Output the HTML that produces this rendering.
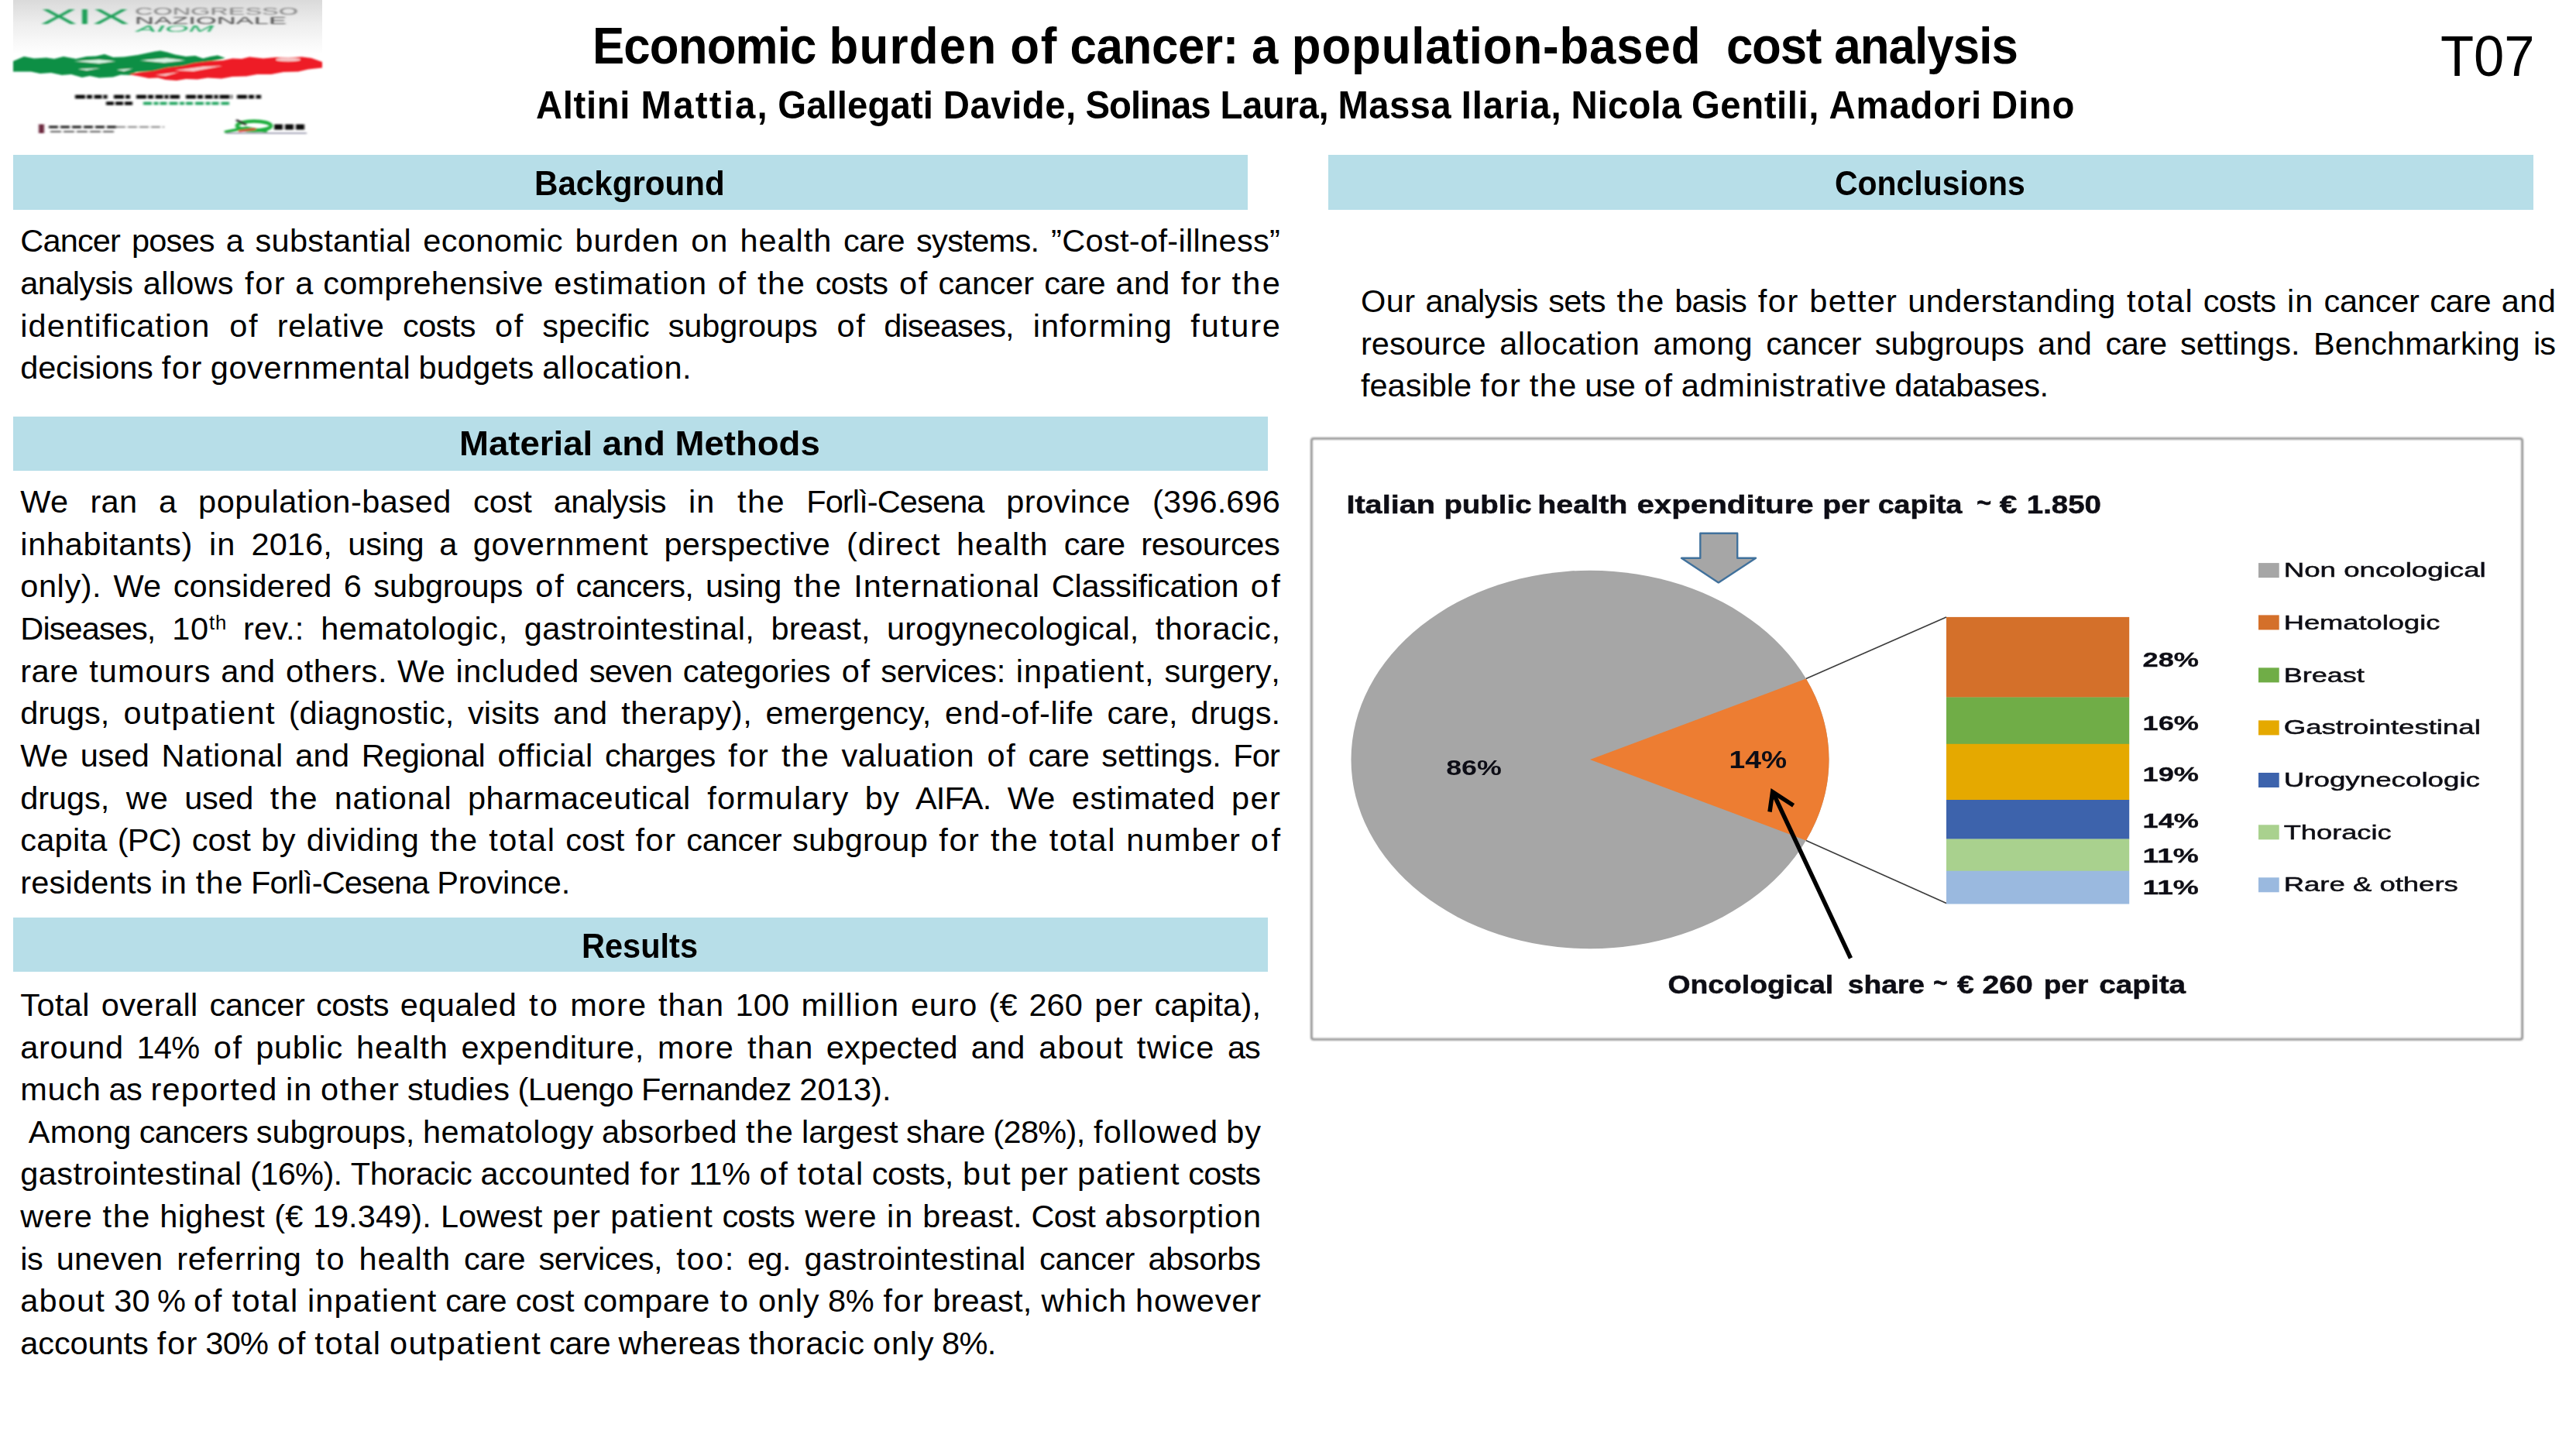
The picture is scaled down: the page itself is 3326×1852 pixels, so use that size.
<!DOCTYPE html>
<html lang="en"><head><meta charset="utf-8"><title>Economic burden of cancer: a population-based cost analysis</title>
<style>
html,body{margin:0;padding:0;background:#fff}
body{width:3326px;height:1852px;position:relative;overflow:hidden;font-family:"Liberation Sans", sans-serif;color:#000}
.bar{position:absolute;background:#b7dee8}
.t{position:absolute;white-space:nowrap;transform-origin:0 0;margin:0;font-weight:normal}
.b{font-weight:bold}
.ln{position:absolute;white-space:nowrap;font-size:41.5px;line-height:54px;height:54px;text-align:justify;text-align-last:justify;font-variant-ligatures:none;word-spacing:-1.17px}
.ln.last{text-align:left;text-align-last:left}
.ln sup{font-size:0.62em;line-height:0;vertical-align:baseline;position:relative;top:-0.52em}
svg{position:absolute;left:0;top:0}
svg text{font-family:"Liberation Sans", sans-serif}
</style></head><body>
<div class="bar" style="left:17px;top:200px;width:1594px;height:71px"></div>
<div class="bar" style="left:17px;top:537.5px;width:1620px;height:70px"></div>
<div class="bar" style="left:17px;top:1185.3px;width:1620px;height:70.2px"></div>
<div class="bar" style="left:1715px;top:200px;width:1556px;height:71px"></div>
<h1 id="title" class="t b" style="left:765.00px;top:19.48px;font-size:67px;line-height:80px;transform:scaleX(0.923);word-spacing:-0.85px;"><span style="letter-spacing:-0.96px">Economic</span> <span style="letter-spacing:1.35px;margin:0 -0.68px 0 0.68px">burden</span> <span style="letter-spacing:1.92px;margin:0 -0.96px 0 0.96px">of</span> <span style="letter-spacing:-0.43px">cancer:</span> <span style="letter-spacing:1.52px;margin:0 -0.76px 0 0.76px">a</span> <span style="letter-spacing:0.89px;margin:0 -0.45px 0 0.45px">population-based&nbsp;</span> <span style="letter-spacing:-1.34px;margin:0 0.67px 0 -0.67px">cost</span> <span style="letter-spacing:-0.97px">analysi</span>s</h1>
<h2 id="authors" class="t b" style="left:692.00px;top:105.94px;font-size:49.8px;line-height:60px;transform:scaleX(0.95);word-spacing:-0.75px;"><span style="letter-spacing:0.67px">Altini</span> <span style="letter-spacing:2.32px;margin:0 -1.16px 0 1.16px">Mattia,</span> <span style="letter-spacing:0.13px">Gallegati</span> <span style="letter-spacing:0.55px;margin:0 -0.28px 0 0.28px">Davide,</span> <span style="letter-spacing:-1.06px;margin:0 0.53px 0 -0.53px">Solinas</span> <span style="letter-spacing:-0.42px">Laura,</span> <span style="letter-spacing:0.34px">Massa</span> <span style="letter-spacing:0.92px;margin:0 -0.46px 0 0.46px">Ilaria,</span> <span style="letter-spacing:0.13px">Nicola</span> <span style="letter-spacing:0.63px;margin:0 -0.32px 0 0.32px">Gentili,</span> <span style="letter-spacing:0.83px;margin:0 -0.41px 0 0.41px">Amadori</span> <span style="letter-spacing:0.76px">Din</span>o</h2>
<div id="code" class="t" style="left:3151.00px;top:28.26px;font-size:74.3px;line-height:89px;transform:scaleX(0.95);">T07</div>
<h3 id="h-bg" class="t b" style="left:690.30px;top:209.58px;font-size:44.2px;line-height:53px;transform:scaleX(0.953);">Background</h3>
<h3 id="h-mm" class="t b" style="left:593.00px;top:546.48px;font-size:44.2px;line-height:53px;transform:scaleX(1.031);">Material and Methods</h3>
<h3 id="h-rs" class="t b" style="left:751.00px;top:1194.58px;font-size:44.2px;line-height:53px;transform:scaleX(0.94);">Results</h3>
<h3 id="h-cc" class="t b" style="left:2369.00px;top:209.78px;font-size:44.2px;line-height:53px;transform:scaleX(0.9265);">Conclusions</h3>
<section id="bg">
<div class="ln" style="left:26.30px;top:284.42px;width:1626.70px;"><span style="letter-spacing:-0.83px">Cancer</span> <span style="letter-spacing:-0.78px;margin:0 0.39px 0 -0.39px">poses</span> <span style="letter-spacing:-1.16px;margin:0 0.58px 0 -0.58px">a</span> <span style="letter-spacing:0.28px">substantial</span> <span style="letter-spacing:0.37px">economic</span> <span style="letter-spacing:0.86px;margin:0 -0.43px 0 0.43px">burden</span> <span style="letter-spacing:1.02px;margin:0 -0.51px 0 0.51px">on</span> <span style="letter-spacing:0.94px;margin:0 -0.47px 0 0.47px">health</span> <span style="letter-spacing:-0.41px">care</span> <span style="letter-spacing:-0.65px;margin:0 0.33px 0 -0.33px">systems.</span> <span style="letter-spacing:0.33px">”Cost-of-illness</span>”</div>
<div class="ln" style="left:26.30px;top:339.02px;width:1626.70px;"><span style="letter-spacing:-0.61px">analysis</span> <span style="letter-spacing:0.31px">allows</span> <span style="letter-spacing:1.57px;margin:0 -0.79px 0 0.79px">for</span> <span style="letter-spacing:-1.16px;margin:0 0.58px 0 -0.58px">a</span> <span style="letter-spacing:0.22px">comprehensive</span> <span style="letter-spacing:0.84px;margin:0 -0.42px 0 0.42px">estimation</span> <span style="letter-spacing:1.76px;margin:0 -0.88px 0 0.88px">of</span> <span style="letter-spacing:1.5px;margin:0 -0.75px 0 0.75px">the</span> <span style="letter-spacing:-0.62px;margin:0 0.31px 0 -0.31px">costs</span> <span style="letter-spacing:1.76px;margin:0 -0.88px 0 0.88px">of</span> <span style="letter-spacing:-0.24px">cancer</span> <span style="letter-spacing:-0.41px">care</span> <span style="letter-spacing:0.27px">and</span> <span style="letter-spacing:1.57px;margin:0 -0.79px 0 0.79px">for</span> <span style="letter-spacing:2.25px">th</span>e</div>
<div class="ln" style="left:26.30px;top:393.62px;width:1626.70px;"><span style="letter-spacing:1.02px">identification</span> <span style="letter-spacing:1.76px;margin:0 -0.88px 0 0.88px">of</span> <span style="letter-spacing:0.62px;margin:0 -0.31px 0 0.31px">relative</span> <span style="letter-spacing:-0.62px;margin:0 0.31px 0 -0.31px">costs</span> <span style="letter-spacing:1.76px;margin:0 -0.88px 0 0.88px">of</span> specific <span style="letter-spacing:-0.11px">subgroups</span> <span style="letter-spacing:1.76px;margin:0 -0.88px 0 0.88px">of</span> <span style="letter-spacing:-0.89px;margin:0 0.44px 0 -0.44px">diseases,</span> <span style="letter-spacing:1.05px;margin:0 -0.53px 0 0.53px">informing</span> <span style="letter-spacing:1.9px">futur</span>e</div>
<div class="ln last" style="left:26.30px;top:448.22px;"><span style="letter-spacing:-0.19px">decisions</span> <span style="letter-spacing:1.57px;margin:0 -0.79px 0 0.79px">for</span> <span style="letter-spacing:0.59px;margin:0 -0.29px 0 0.29px">governmental</span> <span style="letter-spacing:0.21px">budgets</span> <span style="letter-spacing:0.55px;margin:0 -0.28px 0 0.28px">allocation.</span></div>
</section>
<section id="mm">
<div class="ln" style="left:26.30px;top:621.22px;width:1626.70px;"><span style="letter-spacing:0.17px">We</span> <span style="letter-spacing:0.35px">ran</span> <span style="letter-spacing:-1.16px;margin:0 0.58px 0 -0.58px">a</span> <span style="letter-spacing:0.53px;margin:0 -0.27px 0 0.27px">population-based</span> <span style="letter-spacing:-0.06px">cost</span> <span style="letter-spacing:-0.61px;margin:0 0.3px 0 -0.3px">analysis</span> <span style="letter-spacing:1.13px;margin:0 -0.56px 0 0.56px">in</span> <span style="letter-spacing:1.5px;margin:0 -0.75px 0 0.75px">the</span> <span style="letter-spacing:-0.87px;margin:0 0.43px 0 -0.43px">Forlì-Cesena</span> <span style="letter-spacing:0.47px">province</span> <span style="letter-spacing:0.13px">(396.69</span>6</div>
<div class="ln" style="left:26.30px;top:675.85px;width:1626.70px;"><span style="letter-spacing:0.67px">inhabitants)</span> <span style="letter-spacing:1.13px;margin:0 -0.56px 0 0.56px">in</span> <span style="letter-spacing:0.08px">2016,</span> <span style="letter-spacing:-0.22px">using</span> <span style="letter-spacing:-1.16px;margin:0 0.58px 0 -0.58px">a</span> <span style="letter-spacing:0.74px;margin:0 -0.37px 0 0.37px">government</span> <span style="letter-spacing:0.22px">perspective</span> <span style="letter-spacing:0.86px;margin:0 -0.43px 0 0.43px">(direct</span> <span style="letter-spacing:0.94px;margin:0 -0.47px 0 0.47px">health</span> <span style="letter-spacing:-0.41px">care</span> <span style="letter-spacing:-0.33px">resource</span>s</div>
<div class="ln" style="left:26.30px;top:730.48px;width:1626.70px;"><span style="letter-spacing:0.57px">only).</span> <span style="letter-spacing:0.17px">We</span> <span style="letter-spacing:0.17px">considered</span> <span style="letter-spacing:0.12px">6</span> <span style="letter-spacing:-0.11px">subgroups</span> <span style="letter-spacing:1.76px;margin:0 -0.88px 0 0.88px">of</span> <span style="letter-spacing:-0.65px;margin:0 0.33px 0 -0.33px">cancers,</span> <span style="letter-spacing:-0.22px">using</span> <span style="letter-spacing:1.5px;margin:0 -0.75px 0 0.75px">the</span> <span style="letter-spacing:0.93px;margin:0 -0.47px 0 0.47px">International</span> <span style="letter-spacing:-0.2px">Classification</span> <span style="letter-spacing:3.52px">o</span>f</div>
<div class="ln" style="left:26.30px;top:785.11px;width:1626.70px;"><span style="letter-spacing:-0.89px">Diseases,</span> <span style="letter-spacing:0.81px;margin:0 -0.41px 0 0.41px">10<sup>th</sup></span> <span style="letter-spacing:0.21px">rev.:</span> <span style="letter-spacing:0.52px;margin:0 -0.26px 0 0.26px">hematologic,</span> <span style="letter-spacing:0.4px">gastrointestinal,</span> <span style="letter-spacing:0.21px">breast,</span> <span style="letter-spacing:0.14px">urogynecological,</span> <span style="letter-spacing:0.54px">thoracic</span>,</div>
<div class="ln" style="left:26.30px;top:839.74px;width:1626.70px;"><span style="letter-spacing:0.33px">rare</span> <span style="letter-spacing:1.05px;margin:0 -0.53px 0 0.53px">tumours</span> <span style="letter-spacing:0.27px">and</span> <span style="letter-spacing:0.59px;margin:0 -0.29px 0 0.29px">others.</span> <span style="letter-spacing:0.17px">We</span> <span style="letter-spacing:0.6px;margin:0 -0.3px 0 0.3px">included</span> <span style="letter-spacing:-0.64px;margin:0 0.32px 0 -0.32px">seven</span> <span style="letter-spacing:-0.08px">categories</span> <span style="letter-spacing:1.76px;margin:0 -0.88px 0 0.88px">of</span> <span style="letter-spacing:-0.35px">services:</span> <span style="letter-spacing:1.04px;margin:0 -0.52px 0 0.52px">inpatient,</span> <span style="letter-spacing:-0.07px">surgery</span>,</div>
<div class="ln" style="left:26.30px;top:894.37px;width:1626.70px;"><span style="letter-spacing:-0.06px">drugs,</span> <span style="letter-spacing:1.41px;margin:0 -0.7px 0 0.7px">outpatient</span> <span style="letter-spacing:0.14px">(diagnostic,</span> <span style="letter-spacing:0.11px">visits</span> <span style="letter-spacing:0.27px">and</span> <span style="letter-spacing:0.59px;margin:0 -0.29px 0 0.29px">therapy),</span> emergency, <span style="letter-spacing:0.72px;margin:0 -0.36px 0 0.36px">end-of-life</span> <span style="letter-spacing:-0.35px">care,</span> drugs.</div>
<div class="ln" style="left:26.30px;top:949.00px;width:1626.70px;"><span style="letter-spacing:0.17px">We</span> <span style="letter-spacing:-0.29px">used</span> <span style="letter-spacing:0.62px;margin:0 -0.31px 0 0.31px">National</span> <span style="letter-spacing:0.27px">and</span> <span style="letter-spacing:-0.53px;margin:0 0.27px 0 -0.27px">Regional</span> <span style="letter-spacing:0.82px;margin:0 -0.41px 0 0.41px">official</span> <span style="letter-spacing:-0.72px;margin:0 0.36px 0 -0.36px">charges</span> <span style="letter-spacing:1.57px;margin:0 -0.79px 0 0.79px">for</span> <span style="letter-spacing:1.5px;margin:0 -0.75px 0 0.75px">the</span> <span style="letter-spacing:0.63px;margin:0 -0.32px 0 0.32px">valuation</span> <span style="letter-spacing:1.76px;margin:0 -0.88px 0 0.88px">of</span> <span style="letter-spacing:-0.41px">care</span> settings. <span style="letter-spacing:-0.85px">Fo</span>r</div>
<div class="ln" style="left:26.30px;top:1003.63px;width:1626.70px;"><span style="letter-spacing:-0.06px">drugs,</span> <span style="letter-spacing:1.03px;margin:0 -0.52px 0 0.52px">we</span> <span style="letter-spacing:-0.29px">used</span> <span style="letter-spacing:1.5px;margin:0 -0.75px 0 0.75px">the</span> <span style="letter-spacing:0.8px;margin:0 -0.4px 0 0.4px">national</span> <span style="letter-spacing:0.45px">pharmaceutical</span> <span style="letter-spacing:1.13px;margin:0 -0.56px 0 0.56px">formulary</span> <span style="letter-spacing:0.37px">by</span> <span style="letter-spacing:-0.8px;margin:0 0.4px 0 -0.4px">AIFA.</span> <span style="letter-spacing:0.17px">We</span> <span style="letter-spacing:0.62px;margin:0 -0.31px 0 0.31px">estimated</span> <span style="letter-spacing:1.42px">pe</span>r</div>
<div class="ln" style="left:26.30px;top:1058.26px;width:1626.70px;"><span style="letter-spacing:0.24px">capita</span> <span style="letter-spacing:-0.75px;margin:0 0.38px 0 -0.38px">(PC)</span> <span style="letter-spacing:-0.06px">cost</span> <span style="letter-spacing:0.37px">by</span> <span style="letter-spacing:0.65px;margin:0 -0.33px 0 0.33px">dividing</span> <span style="letter-spacing:1.5px;margin:0 -0.75px 0 0.75px">the</span> <span style="letter-spacing:1.57px;margin:0 -0.79px 0 0.79px">total</span> <span style="letter-spacing:-0.06px">cost</span> <span style="letter-spacing:1.57px;margin:0 -0.79px 0 0.79px">for</span> <span style="letter-spacing:-0.24px">cancer</span> <span style="letter-spacing:0.25px">subgroup</span> <span style="letter-spacing:1.57px;margin:0 -0.79px 0 0.79px">for</span> <span style="letter-spacing:1.5px;margin:0 -0.75px 0 0.75px">the</span> <span style="letter-spacing:1.57px;margin:0 -0.79px 0 0.79px">total</span> <span style="letter-spacing:1.14px;margin:0 -0.57px 0 0.57px">number</span> <span style="letter-spacing:3.52px">o</span>f</div>
<div class="ln last" style="left:26.30px;top:1112.89px;"><span style="letter-spacing:0.21px">residents</span> <span style="letter-spacing:1.13px;margin:0 -0.56px 0 0.56px">in</span> <span style="letter-spacing:1.5px;margin:0 -0.75px 0 0.75px">the</span> <span style="letter-spacing:-0.87px;margin:0 0.43px 0 -0.43px">Forlì-Cesena</span> <span style="letter-spacing:-0.13px">Province.</span></div>
</section>
<section id="rs">
<div class="ln" style="left:26.30px;top:1270.92px;width:1601.70px;"><span style="letter-spacing:0.39px">Total</span> <span style="letter-spacing:0.39px">overall</span> <span style="letter-spacing:-0.24px">cancer</span> <span style="letter-spacing:-0.62px;margin:0 0.31px 0 -0.31px">costs</span> <span style="letter-spacing:0.36px">equaled</span> <span style="letter-spacing:2.21px;margin:0 -1.1px 0 1.1px">to</span> <span style="letter-spacing:1.08px;margin:0 -0.54px 0 0.54px">more</span> <span style="letter-spacing:1.16px;margin:0 -0.58px 0 0.58px">than</span> <span style="letter-spacing:0.13px">100</span> <span style="letter-spacing:1.32px;margin:0 -0.66px 0 0.66px">million</span> <span style="letter-spacing:0.79px;margin:0 -0.4px 0 0.4px">euro</span> <span style="letter-spacing:0.1px">(€</span> <span style="letter-spacing:0.13px">260</span> <span style="letter-spacing:0.95px;margin:0 -0.47px 0 0.47px">per</span> <span style="letter-spacing:0.21px">capita)</span>,</div>
<div class="ln" style="left:26.30px;top:1325.55px;width:1601.70px;"><span style="letter-spacing:0.71px">around</span> <span style="letter-spacing:-0.67px;margin:0 0.33px 0 -0.33px">14%</span> <span style="letter-spacing:1.76px;margin:0 -0.88px 0 0.88px">of</span> <span style="letter-spacing:0.69px;margin:0 -0.34px 0 0.34px">public</span> <span style="letter-spacing:0.94px;margin:0 -0.47px 0 0.47px">health</span> <span style="letter-spacing:0.66px;margin:0 -0.33px 0 0.33px">expenditure,</span> <span style="letter-spacing:1.08px;margin:0 -0.54px 0 0.54px">more</span> <span style="letter-spacing:1.16px;margin:0 -0.58px 0 0.58px">than</span> <span style="letter-spacing:0.18px">expected</span> <span style="letter-spacing:0.27px">and</span> <span style="letter-spacing:1.14px;margin:0 -0.57px 0 0.57px">about</span> <span style="letter-spacing:1.24px;margin:0 -0.62px 0 0.62px">twice</span> <span style="letter-spacing:-1px">a</span>s</div>
<div class="ln last" style="left:26.30px;top:1380.18px;"><span style="letter-spacing:0.65px">much</span> <span style="letter-spacing:-0.5px;margin:0 0.25px 0 -0.25px">as</span> <span style="letter-spacing:1.18px;margin:0 -0.59px 0 0.59px">reported</span> <span style="letter-spacing:1.13px;margin:0 -0.56px 0 0.56px">in</span> <span style="letter-spacing:1.54px;margin:0 -0.77px 0 0.77px">other</span> <span style="letter-spacing:0.08px">studies</span> <span style="letter-spacing:-0.41px">(Luengo</span> <span style="letter-spacing:-0.52px;margin:0 0.26px 0 -0.26px">Fernandez</span> <span style="letter-spacing:0.1px">2013).</span></div>
<div class="ln" style="left:26.30px;top:1434.81px;width:1601.70px;">&nbsp;<span style="letter-spacing:0.27px">Among</span> <span style="letter-spacing:-0.73px;margin:0 0.36px 0 -0.36px">cancers</span> <span style="letter-spacing:-0.11px">subgroups,</span> <span style="letter-spacing:0.64px;margin:0 -0.32px 0 0.32px">hematology</span> <span style="letter-spacing:0.21px">absorbed</span> <span style="letter-spacing:1.5px;margin:0 -0.75px 0 0.75px">the</span> largest <span style="letter-spacing:-0.35px">share</span> <span style="letter-spacing:-0.64px;margin:0 0.32px 0 -0.32px">(28%),</span> <span style="letter-spacing:1.13px;margin:0 -0.56px 0 0.56px">followed</span> <span style="letter-spacing:0.74px">b</span>y</div>
<div class="ln" style="left:26.30px;top:1489.44px;width:1601.70px;"><span style="letter-spacing:0.43px">gastrointestinal</span> <span style="letter-spacing:-0.62px;margin:0 0.31px 0 -0.31px">(16%).</span> <span style="letter-spacing:-0.3px">Thoracic</span> <span style="letter-spacing:0.26px">accounted</span> <span style="letter-spacing:1.57px;margin:0 -0.79px 0 0.79px">for</span> <span style="letter-spacing:-0.27px">11%</span> <span style="letter-spacing:1.76px;margin:0 -0.88px 0 0.88px">of</span> <span style="letter-spacing:1.57px;margin:0 -0.79px 0 0.79px">total</span> <span style="letter-spacing:-0.53px;margin:0 0.27px 0 -0.27px">costs,</span> <span style="letter-spacing:1.92px;margin:0 -0.96px 0 0.96px">but</span> <span style="letter-spacing:0.95px;margin:0 -0.47px 0 0.47px">per</span> <span style="letter-spacing:1.18px;margin:0 -0.59px 0 0.59px">patient</span> <span style="letter-spacing:-0.78px">cost</span>s</div>
<div class="ln" style="left:26.30px;top:1544.07px;width:1601.70px;"><span style="letter-spacing:0.83px">were</span> <span style="letter-spacing:1.5px;margin:0 -0.75px 0 0.75px">the</span> <span style="letter-spacing:0.27px">highest</span> <span style="letter-spacing:0.1px">(€</span> <span style="letter-spacing:0.1px">19.349).</span> <span style="letter-spacing:-0.07px">Lowest</span> <span style="letter-spacing:0.95px;margin:0 -0.47px 0 0.47px">per</span> <span style="letter-spacing:1.18px;margin:0 -0.59px 0 0.59px">patient</span> <span style="letter-spacing:-0.62px;margin:0 0.31px 0 -0.31px">costs</span> <span style="letter-spacing:0.83px;margin:0 -0.41px 0 0.41px">were</span> <span style="letter-spacing:1.13px;margin:0 -0.56px 0 0.56px">in</span> <span style="letter-spacing:0.23px">breast.</span> <span style="letter-spacing:-0.75px;margin:0 0.38px 0 -0.38px">Cost</span> <span style="letter-spacing:0.84px">absorptio</span>n</div>
<div class="ln" style="left:26.30px;top:1598.70px;width:1601.70px;"><span style="letter-spacing:-0.5px">is</span> <span style="letter-spacing:0.27px">uneven</span> <span style="letter-spacing:0.77px;margin:0 -0.39px 0 0.39px">referring</span> <span style="letter-spacing:2.21px;margin:0 -1.1px 0 1.1px">to</span> <span style="letter-spacing:0.94px;margin:0 -0.47px 0 0.47px">health</span> <span style="letter-spacing:-0.41px">care</span> <span style="letter-spacing:-0.44px">services,</span> <span style="letter-spacing:1.55px;margin:0 -0.78px 0 0.78px">too:</span> <span style="letter-spacing:-0.6px;margin:0 0.3px 0 -0.3px">eg.</span> <span style="letter-spacing:0.43px">gastrointestinal</span> <span style="letter-spacing:-0.24px">cancer</span> <span style="letter-spacing:-0.35px">absorb</span>s</div>
<div class="ln" style="left:26.30px;top:1653.33px;width:1601.70px;"><span style="letter-spacing:1.14px">about</span> <span style="letter-spacing:0.13px">30</span> <span style="letter-spacing:-4.16px;margin:0 2.08px 0 -2.08px">%</span> <span style="letter-spacing:1.76px;margin:0 -0.88px 0 0.88px">of</span> <span style="letter-spacing:1.57px;margin:0 -0.79px 0 0.79px">total</span> <span style="letter-spacing:1.17px;margin:0 -0.58px 0 0.58px">inpatient</span> <span style="letter-spacing:-0.41px">care</span> <span style="letter-spacing:-0.06px">cost</span> <span style="letter-spacing:0.34px">compare</span> <span style="letter-spacing:2.21px;margin:0 -1.1px 0 1.1px">to</span> <span style="letter-spacing:0.83px;margin:0 -0.41px 0 0.41px">only</span> <span style="letter-spacing:-0.5px;margin:0 0.25px 0 -0.25px">8%</span> <span style="letter-spacing:1.57px;margin:0 -0.79px 0 0.79px">for</span> <span style="letter-spacing:0.21px">breast,</span> <span style="letter-spacing:0.93px;margin:0 -0.47px 0 0.47px">which</span> <span style="letter-spacing:0.84px">howeve</span>r</div>
<div class="ln last" style="left:26.30px;top:1707.96px;"><span style="letter-spacing:-0.09px">accounts</span> <span style="letter-spacing:1.57px;margin:0 -0.79px 0 0.79px">for</span> <span style="letter-spacing:-0.67px;margin:0 0.33px 0 -0.33px">30%</span> <span style="letter-spacing:1.76px;margin:0 -0.88px 0 0.88px">of</span> <span style="letter-spacing:1.57px;margin:0 -0.79px 0 0.79px">total</span> <span style="letter-spacing:1.41px;margin:0 -0.7px 0 0.7px">outpatient</span> <span style="letter-spacing:-0.41px">care</span> <span style="letter-spacing:0.1px">whereas</span> <span style="letter-spacing:0.56px;margin:0 -0.28px 0 0.28px">thoracic</span> <span style="letter-spacing:0.83px;margin:0 -0.41px 0 0.41px">only</span> <span style="letter-spacing:-0.67px;margin:0 0.33px 0 -0.33px">8%.</span></div>
</section>
<section id="cc">
<div class="ln" style="left:1757.00px;top:362.02px;width:1543.00px;"><span style="letter-spacing:0.39px">Our</span> <span style="letter-spacing:-0.61px;margin:0 0.3px 0 -0.3px">analysis</span> <span style="letter-spacing:-0.6px;margin:0 0.3px 0 -0.3px">sets</span> <span style="letter-spacing:1.5px;margin:0 -0.75px 0 0.75px">the</span> <span style="letter-spacing:-0.8px;margin:0 0.4px 0 -0.4px">basis</span> <span style="letter-spacing:1.57px;margin:0 -0.79px 0 0.79px">for</span> <span style="letter-spacing:1.3px;margin:0 -0.65px 0 0.65px">better</span> <span style="letter-spacing:0.42px">understanding</span> <span style="letter-spacing:1.57px;margin:0 -0.79px 0 0.79px">total</span> <span style="letter-spacing:-0.62px;margin:0 0.31px 0 -0.31px">costs</span> <span style="letter-spacing:1.13px;margin:0 -0.56px 0 0.56px">in</span> <span style="letter-spacing:-0.24px">cancer</span> <span style="letter-spacing:-0.41px">care</span> <span style="letter-spacing:0.41px">an</span>d</div>
<div class="ln" style="left:1757.00px;top:416.72px;width:1543.00px;">resource <span style="letter-spacing:0.6px;margin:0 -0.3px 0 0.3px">allocation</span> <span style="letter-spacing:0.28px">among</span> <span style="letter-spacing:-0.24px">cancer</span> <span style="letter-spacing:-0.11px">subgroups</span> <span style="letter-spacing:0.27px">and</span> <span style="letter-spacing:-0.41px">care</span> settings. <span style="letter-spacing:0.11px">Benchmarking</span> <span style="letter-spacing:-1px">i</span>s</div>
<div class="ln last" style="left:1757.00px;top:471.42px;">feasible <span style="letter-spacing:1.57px;margin:0 -0.79px 0 0.79px">for</span> <span style="letter-spacing:1.5px;margin:0 -0.75px 0 0.75px">the</span> <span style="letter-spacing:-0.67px;margin:0 0.33px 0 -0.33px">use</span> <span style="letter-spacing:1.76px;margin:0 -0.88px 0 0.88px">of</span> <span style="letter-spacing:0.68px;margin:0 -0.34px 0 0.34px">administrative</span> <span style="letter-spacing:-0.46px">databases.</span></div>
</section>
<svg id="logo" width="440" height="185" viewBox="0 0 440 185">
<defs>
<linearGradient id="lg" x1="0" y1="0" x2="0" y2="1"><stop offset="0" stop-color="#dadada"/><stop offset="0.45" stop-color="#eeeeee"/><stop offset="1" stop-color="#ffffff"/></linearGradient>
<filter id="lb1" x="-10%" y="-50%" width="120%" height="200%"><feGaussianBlur stdDeviation="1.7 0.9"/></filter>
<filter id="lb2" x="-10%" y="-50%" width="120%" height="200%"><feGaussianBlur stdDeviation="1.6 0.9"/></filter>
<filter id="lb3" x="-5%" y="-20%" width="110%" height="140%"><feGaussianBlur stdDeviation="1.2 0.8"/></filter>
</defs>
<rect x="17" y="0" width="399" height="70" fill="url(#lg)"/>
<g filter="url(#lb1)">
<text x="52" y="30.5" font-size="28" fill="#1a9f57" textLength="115" lengthAdjust="spacingAndGlyphs">XIX</text>
<text x="174" y="18.8" font-size="12.8" fill="#808080" textLength="211" lengthAdjust="spacingAndGlyphs">CONGRESSO</text>
<text x="174" y="31" font-size="12.8" fill="#4a4a4a" textLength="196" lengthAdjust="spacingAndGlyphs">NAZIONALE</text>
<text x="176" y="41" font-size="10.5" font-style="italic" fill="#1fa860" textLength="100" lengthAdjust="spacingAndGlyphs">AIOM</text>
</g>
<g filter="url(#lb3)">
<path d="M17 79 L24 76 L31 73 L44 75.5 L60 74.5 L70 76 L82 73 L98 76 L112 73 L124 72.5 L135 70 L146 74 L160 73.5 L178 71 L190 68.5 L200 66.5 L207 65.5 L216 67.5 L226 70.5 L240 73 L252 72 L262 75.5 L272 73 L281 71.5 L291 75 L270 79.5 L250 82 L236 85.5 L215 88 L198 92 L176 93 L168 97 L156 96.5 L146 99.5 L128 100.5 L116 98 L106 100 L92 96 L80 97 L66 94 L52 95 L40 92.5 L17 92.5 Z" fill="#0a8f44"/>
<path d="M166 96 L180 93.5 L198 91.5 L215 87.5 L236 85 L250 81.5 L270 79 L288 78 L300 75.5 L312 76 L322 73.5 L340 75.5 L356 74 L372 74.5 L390 73.5 L402 75 L416 80 L416 87.5 L398 89.5 L385 92.5 L366 93 L350 96 L332 96 L318 98.5 L300 99 L286 101.5 L268 100.5 L255 102.5 L240 102 L228 104 L214 103 L204 100.5 L192 101 L180 98.5 Z" fill="#ee1c25"/>
<path d="M95 79 L128 77 L150 79 L128 82 Z M180 78 L215 75 L240 78 L212 81 Z M100 89 L130 88 L112 91 Z M150 90 L172 88.5 L160 92 Z" fill="#d8f3e3"/>
<path d="M225 91 L262 86 L288 85 L250 92 Z M200 97 L232 93 L214 98 Z" fill="#f9c9c9"/>
<ellipse cx="372" cy="77" rx="16" ry="2.6" fill="#f6c4c4"/>
</g>
<g filter="url(#lb2)" fill="none" stroke-linecap="butt">
<path d="M97 125 H140 M147 125 H168 M176 125 H232 M240 125 H300 M306 125 H337" stroke="#111" stroke-width="5" stroke-dasharray="13 2 7 2.5 10 2 5 2"/>
<path d="M137 133.5 H173" stroke="#111" stroke-width="4.6" stroke-dasharray="10 2"/>
<path d="M185 133.5 H296" stroke="#2aa866" stroke-width="4" stroke-dasharray="11 2.5 6 2 9 3"/>
<path d="M53.5 160.5 V172" stroke="#6d2a3f" stroke-width="7"/>
<path d="M63 164 H150" stroke="#3b3b3b" stroke-width="3.6" stroke-dasharray="12 3"/>
<path d="M150 164 H212" stroke="#9a9a9a" stroke-width="2.6" stroke-dasharray="12 3"/>
<path d="M65 170 H148" stroke="#777" stroke-width="2.4" stroke-dasharray="14 3"/>
<ellipse cx="328" cy="162.5" rx="22" ry="6" stroke="#1fae3c" stroke-width="4.5"/>
<path d="M290 170.5 L318 165 L345 170" stroke="#1fae3c" stroke-width="3.5"/>
<path d="M308 169.5 L330 166.5" stroke="#e03a3a" stroke-width="2.5"/>
<path d="M305 155 L318 161" stroke="#333" stroke-width="3"/>
<path d="M354 164 H394" stroke="#111" stroke-width="7" stroke-dasharray="11 3"/>
<path d="M292 172 H396" stroke="#8a8aa0" stroke-width="1.6"/>
</g>
</svg>
<svg id="chart" width="3326" height="1852" viewBox="0 0 3326 1852">
<defs><filter id="soft" x="-5%" y="-5%" width="110%" height="110%"><feGaussianBlur stdDeviation="0.7"/></filter><filter id="fb" x="-2%" y="-2%" width="104%" height="104%"><feGaussianBlur stdDeviation="0.9"/></filter><filter id="tb" x="-5%" y="-20%" width="110%" height="140%"><feGaussianBlur stdDeviation="0.55"/></filter></defs>
<rect x="1693.5" y="566.5" width="1563" height="775.8" rx="2.5" fill="#fff" stroke="#939393" stroke-width="3" filter="url(#fb)"/>
<g filter="url(#soft)">
<ellipse cx="2053" cy="981" rx="308.5" ry="244.3" fill="#a6a6a6"/>
<path d="M2053 981 L2331.9 876.6 A308.5 244.3 0 0 1 2331.9 1085.4 Z" fill="#ed7d31"/>
<path d="M2331.9 876.6 L2513 797 M2331.9 1085.4 L2513 1166.5" stroke="#3a3a3a" stroke-width="1.6" fill="none"/>
<rect x="2513" y="796.9" width="236.2" height="103.9" fill="#d46f2b"/>
<rect x="2513" y="900.5" width="236.2" height="60.6" fill="#70ad47"/>
<rect x="2513" y="960.8" width="236.2" height="72.5" fill="#e5a900"/>
<rect x="2513" y="1033" width="236.2" height="50.8" fill="#3c63ac"/>
<rect x="2513" y="1083.5" width="236.2" height="41.5" fill="#a9d18e"/>
<rect x="2513" y="1124.7" width="236.2" height="42.8" fill="#9ab9df"/>
<path d="M2195.3 688.8H2243.2V720.8H2267L2218.8 752.4L2171 720.8H2195.3Z" fill="#a6a6a6" stroke="#41719c" stroke-width="2.4" stroke-linejoin="round"/>
<rect x="2916" y="727.1" width="26.7" height="19" fill="#a6a6a6"/>
<rect x="2916" y="794.4" width="26.7" height="19" fill="#d46f2b"/>
<rect x="2916" y="862.4" width="26.7" height="19" fill="#70ad47"/>
<rect x="2916" y="930.4" width="26.7" height="19" fill="#e5a900"/>
<rect x="2916" y="998.0" width="26.7" height="19" fill="#3c63ac"/>
<rect x="2916" y="1065.3" width="26.7" height="19" fill="#a9d18e"/>
<rect x="2916" y="1133.3" width="26.7" height="19" fill="#9ab9df"/>
<path d="M2389.5 1237.5L2288.9 1023" stroke="#000" stroke-width="5.5" fill="none"/>
<path d="M2285 1048.5L2288.6 1022.6L2315.6 1040.2" stroke="#000" stroke-width="5.5" fill="none" stroke-linejoin="miter"/>
</g>
<g filter="url(#tb)" fill="#0d0d14">
<text y="662.8" font-size="33" font-weight="bold" stroke="#0d0d14" stroke-width="0.5"><tspan x="1738.4" textLength="114.5" lengthAdjust="spacingAndGlyphs">Italian</tspan> <tspan x="1864.4" textLength="113.2" lengthAdjust="spacingAndGlyphs">public</tspan> <tspan x="1985.2" textLength="116.2" lengthAdjust="spacingAndGlyphs">health</tspan> <tspan x="2113.4" textLength="228.4" lengthAdjust="spacingAndGlyphs">expenditure</tspan> <tspan x="2353.3" textLength="60.7" lengthAdjust="spacingAndGlyphs">per</tspan> <tspan x="2424.7" textLength="108.8" lengthAdjust="spacingAndGlyphs">capita</tspan> <tspan x="2551.9" dy="-3" textLength="19.2" lengthAdjust="spacingAndGlyphs">~</tspan> <tspan x="2581.8" dy="3" textLength="22.6" lengthAdjust="spacingAndGlyphs">€</tspan> <tspan x="2616.8" textLength="96.1" lengthAdjust="spacingAndGlyphs">1.850</tspan></text>
<text y="1282.9" font-size="32.3" font-weight="bold" stroke="#0d0d14" stroke-width="0.5"><tspan x="2153.4" textLength="213.7" lengthAdjust="spacingAndGlyphs">Oncological</tspan> <tspan x="2385.7" textLength="99.4" lengthAdjust="spacingAndGlyphs">share</tspan> <tspan x="2496.0" dy="-3" textLength="18.6" lengthAdjust="spacingAndGlyphs">~</tspan> <tspan x="2527.0" dy="3" textLength="21.8" lengthAdjust="spacingAndGlyphs">€</tspan> <tspan x="2559.6" textLength="65.2" lengthAdjust="spacingAndGlyphs">260</tspan> <tspan x="2638.8" textLength="57.5" lengthAdjust="spacingAndGlyphs">per</tspan> <tspan x="2710.3" textLength="111.7" lengthAdjust="spacingAndGlyphs">capita</tspan></text>
<text x="1867.2" y="1001.4" font-size="28.5" font-weight="bold" textLength="71.7" lengthAdjust="spacingAndGlyphs">86%</text>
<text x="2232.6" y="992.2" font-size="32" font-weight="bold" textLength="74.4" lengthAdjust="spacingAndGlyphs">14%</text>
<text x="2766.5" y="861.4" font-size="26.6" font-weight="bold" textLength="72.5" lengthAdjust="spacingAndGlyphs" stroke="#0d0d14" stroke-width="0.3">28%</text>
<text x="2766.5" y="943.4" font-size="26.6" font-weight="bold" textLength="72.5" lengthAdjust="spacingAndGlyphs" stroke="#0d0d14" stroke-width="0.3">16%</text>
<text x="2766.5" y="1008.6" font-size="26.6" font-weight="bold" textLength="72.5" lengthAdjust="spacingAndGlyphs" stroke="#0d0d14" stroke-width="0.3">19%</text>
<text x="2766.5" y="1068.6" font-size="26.6" font-weight="bold" textLength="72.5" lengthAdjust="spacingAndGlyphs" stroke="#0d0d14" stroke-width="0.3">14%</text>
<text x="2766.5" y="1114.2" font-size="26.6" font-weight="bold" textLength="72.5" lengthAdjust="spacingAndGlyphs" stroke="#0d0d14" stroke-width="0.3">11%</text>
<text x="2766.5" y="1155.0" font-size="26.6" font-weight="bold" textLength="72.5" lengthAdjust="spacingAndGlyphs" stroke="#0d0d14" stroke-width="0.3">11%</text>
<text x="2948.7" y="745.3" font-size="26.2" font-weight="normal" textLength="261.0" lengthAdjust="spacingAndGlyphs" stroke="#0d0d14" stroke-width="0.5">Non oncological</text>
<text x="2948.7" y="813.3" font-size="26.2" font-weight="normal" textLength="201.8" lengthAdjust="spacingAndGlyphs" stroke="#0d0d14" stroke-width="0.5">Hematologic</text>
<text x="2948.7" y="880.6" font-size="26.2" font-weight="normal" textLength="104.1" lengthAdjust="spacingAndGlyphs" stroke="#0d0d14" stroke-width="0.5">Breast</text>
<text x="2948.7" y="948.3" font-size="26.2" font-weight="normal" textLength="254.1" lengthAdjust="spacingAndGlyphs" stroke="#0d0d14" stroke-width="0.5">Gastrointestinal</text>
<text x="2948.7" y="1016.3" font-size="26.2" font-weight="normal" textLength="253.3" lengthAdjust="spacingAndGlyphs" stroke="#0d0d14" stroke-width="0.5">Urogynecologic</text>
<text x="2948.7" y="1083.6" font-size="26.2" font-weight="normal" textLength="139.0" lengthAdjust="spacingAndGlyphs" stroke="#0d0d14" stroke-width="0.5">Thoracic</text>
<text x="2948.7" y="1150.5" font-size="26.2" font-weight="normal" textLength="225.1" lengthAdjust="spacingAndGlyphs" stroke="#0d0d14" stroke-width="0.5">Rare &amp; others</text>
</g>
</svg>
</body></html>
